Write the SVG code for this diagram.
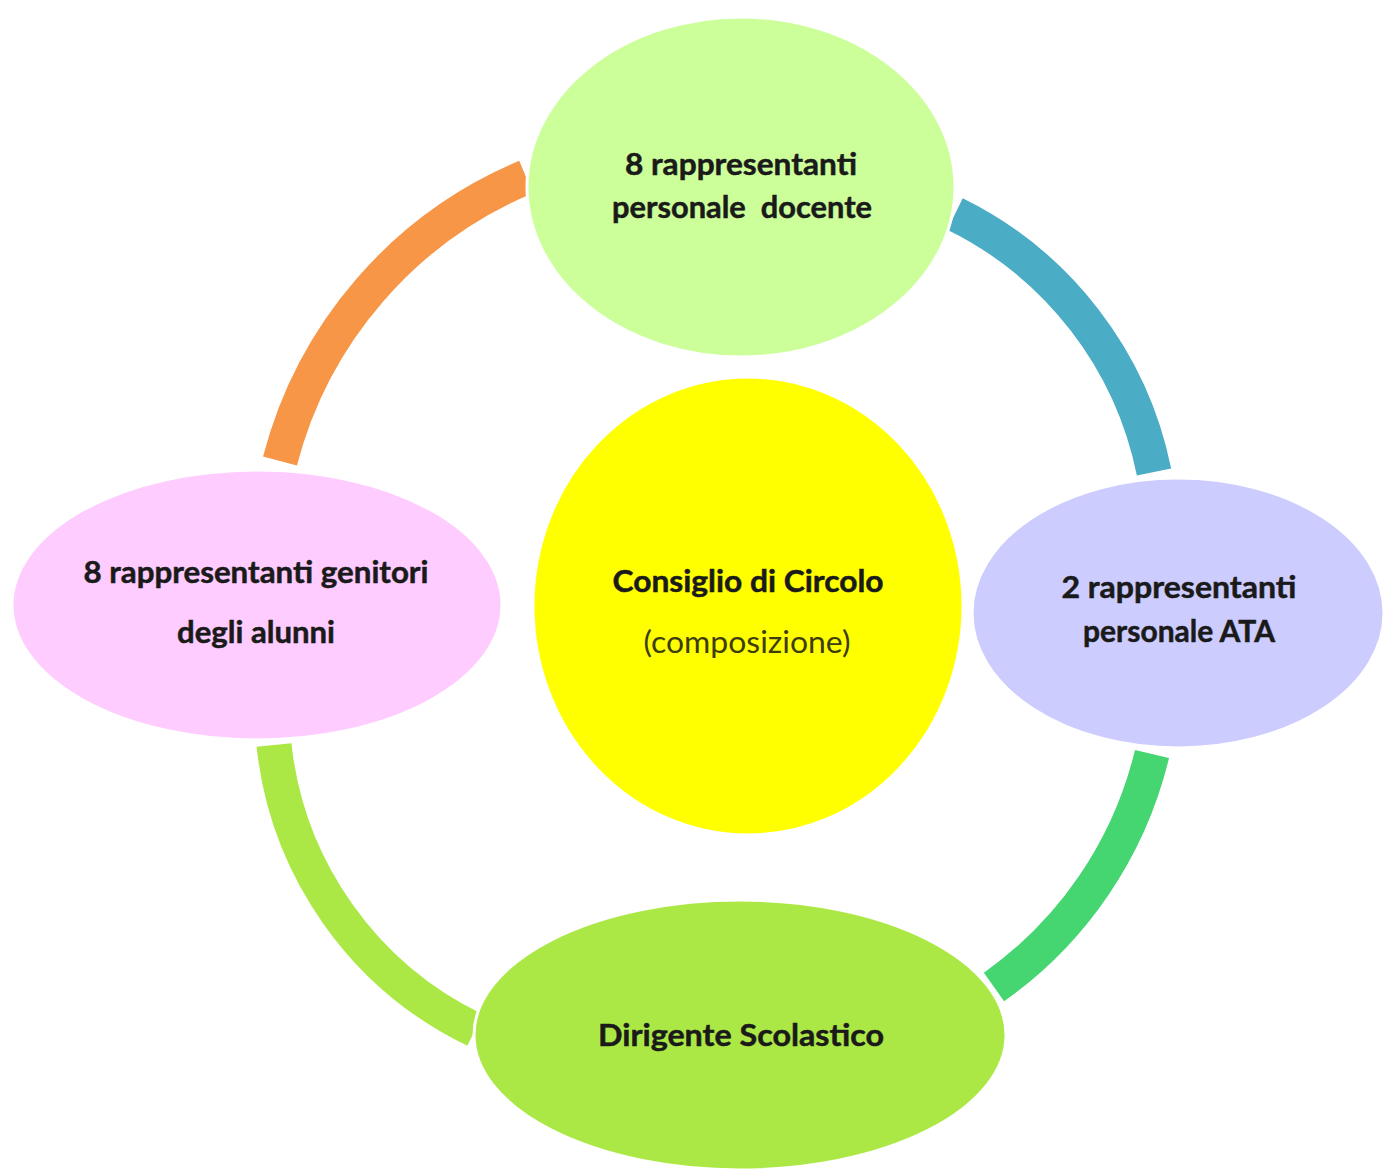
<svg xmlns="http://www.w3.org/2000/svg" width="1383" height="1171" viewBox="0 0 1383 1171">
<style>
.arc{fill:none;stroke-width:35;stroke-linecap:butt}
.node{stroke:#ffffff;stroke-width:3}
.t{font-family:Lato,"Liberation Sans",sans-serif;font-weight:bold;font-size:30px;fill:#1a1a1a;stroke:#1a1a1a;stroke-width:0.5;text-anchor:middle}
.s{font-family:Lato,"Liberation Sans",sans-serif;font-weight:normal;font-size:30px;fill:#3d3d10;text-anchor:middle}
</style>
<rect width="1383" height="1171" fill="#ffffff"/>
<g id="connectors">
<path class="arc" stroke="#F79646" d="M 280 461 A 423 423 0 0 1 526 177"/>
<path class="arc" stroke="#4BACC6" d="M 955 214 A 369 369 0 0 1 1154 472"/>
<path class="arc" stroke="#45D672" d="M 1152 754 A 400 400 0 0 1 994 987"/>
<path class="arc" stroke="#ACE845" d="M 475 1030 A 359 359 0 0 1 274 745"/>
</g>
<g id="node-docente">
<ellipse class="node" cx="741" cy="187" rx="214" ry="170" fill="#CCFF99"/>
<text class="t" x="741" y="175" textLength="232" lengthAdjust="spacingAndGlyphs">8 rappresentanti</text>
<text class="t" x="742" y="218" textLength="260" lengthAdjust="spacingAndGlyphs" xml:space="preserve">personale  docente</text>
</g>
<g id="node-consiglio">
<ellipse class="node" cx="748" cy="606" rx="215" ry="229" fill="#FFFF00"/>
<text class="t" x="748" y="592" textLength="271" lengthAdjust="spacingAndGlyphs">Consiglio di Circolo</text>
<text class="s" x="747" y="653" textLength="207" lengthAdjust="spacingAndGlyphs">(composizione)</text>
</g>
<g id="node-genitori">
<ellipse class="node" cx="257" cy="605" rx="245" ry="135" fill="#FFCCFF"/>
<text class="t" x="256" y="583" textLength="345" lengthAdjust="spacingAndGlyphs">8 rappresentanti genitori</text>
<text class="t" x="256" y="643" textLength="158" lengthAdjust="spacingAndGlyphs">degli alunni</text>
</g>
<g id="node-ata">
<ellipse class="node" cx="1178" cy="613" rx="206" ry="135" fill="#CCCCFF"/>
<text class="t" x="1179" y="598" textLength="235" lengthAdjust="spacingAndGlyphs">2 rappresentanti</text>
<text class="t" x="1179" y="642" textLength="192" lengthAdjust="spacingAndGlyphs">personale ATA</text>
</g>
<g id="node-dirigente">
<ellipse class="node" cx="740" cy="1035" rx="266" ry="135" fill="#ACE845"/>
<text class="t" x="741" y="1046" textLength="286" lengthAdjust="spacingAndGlyphs">Dirigente Scolastico</text>
</g>
</svg>
